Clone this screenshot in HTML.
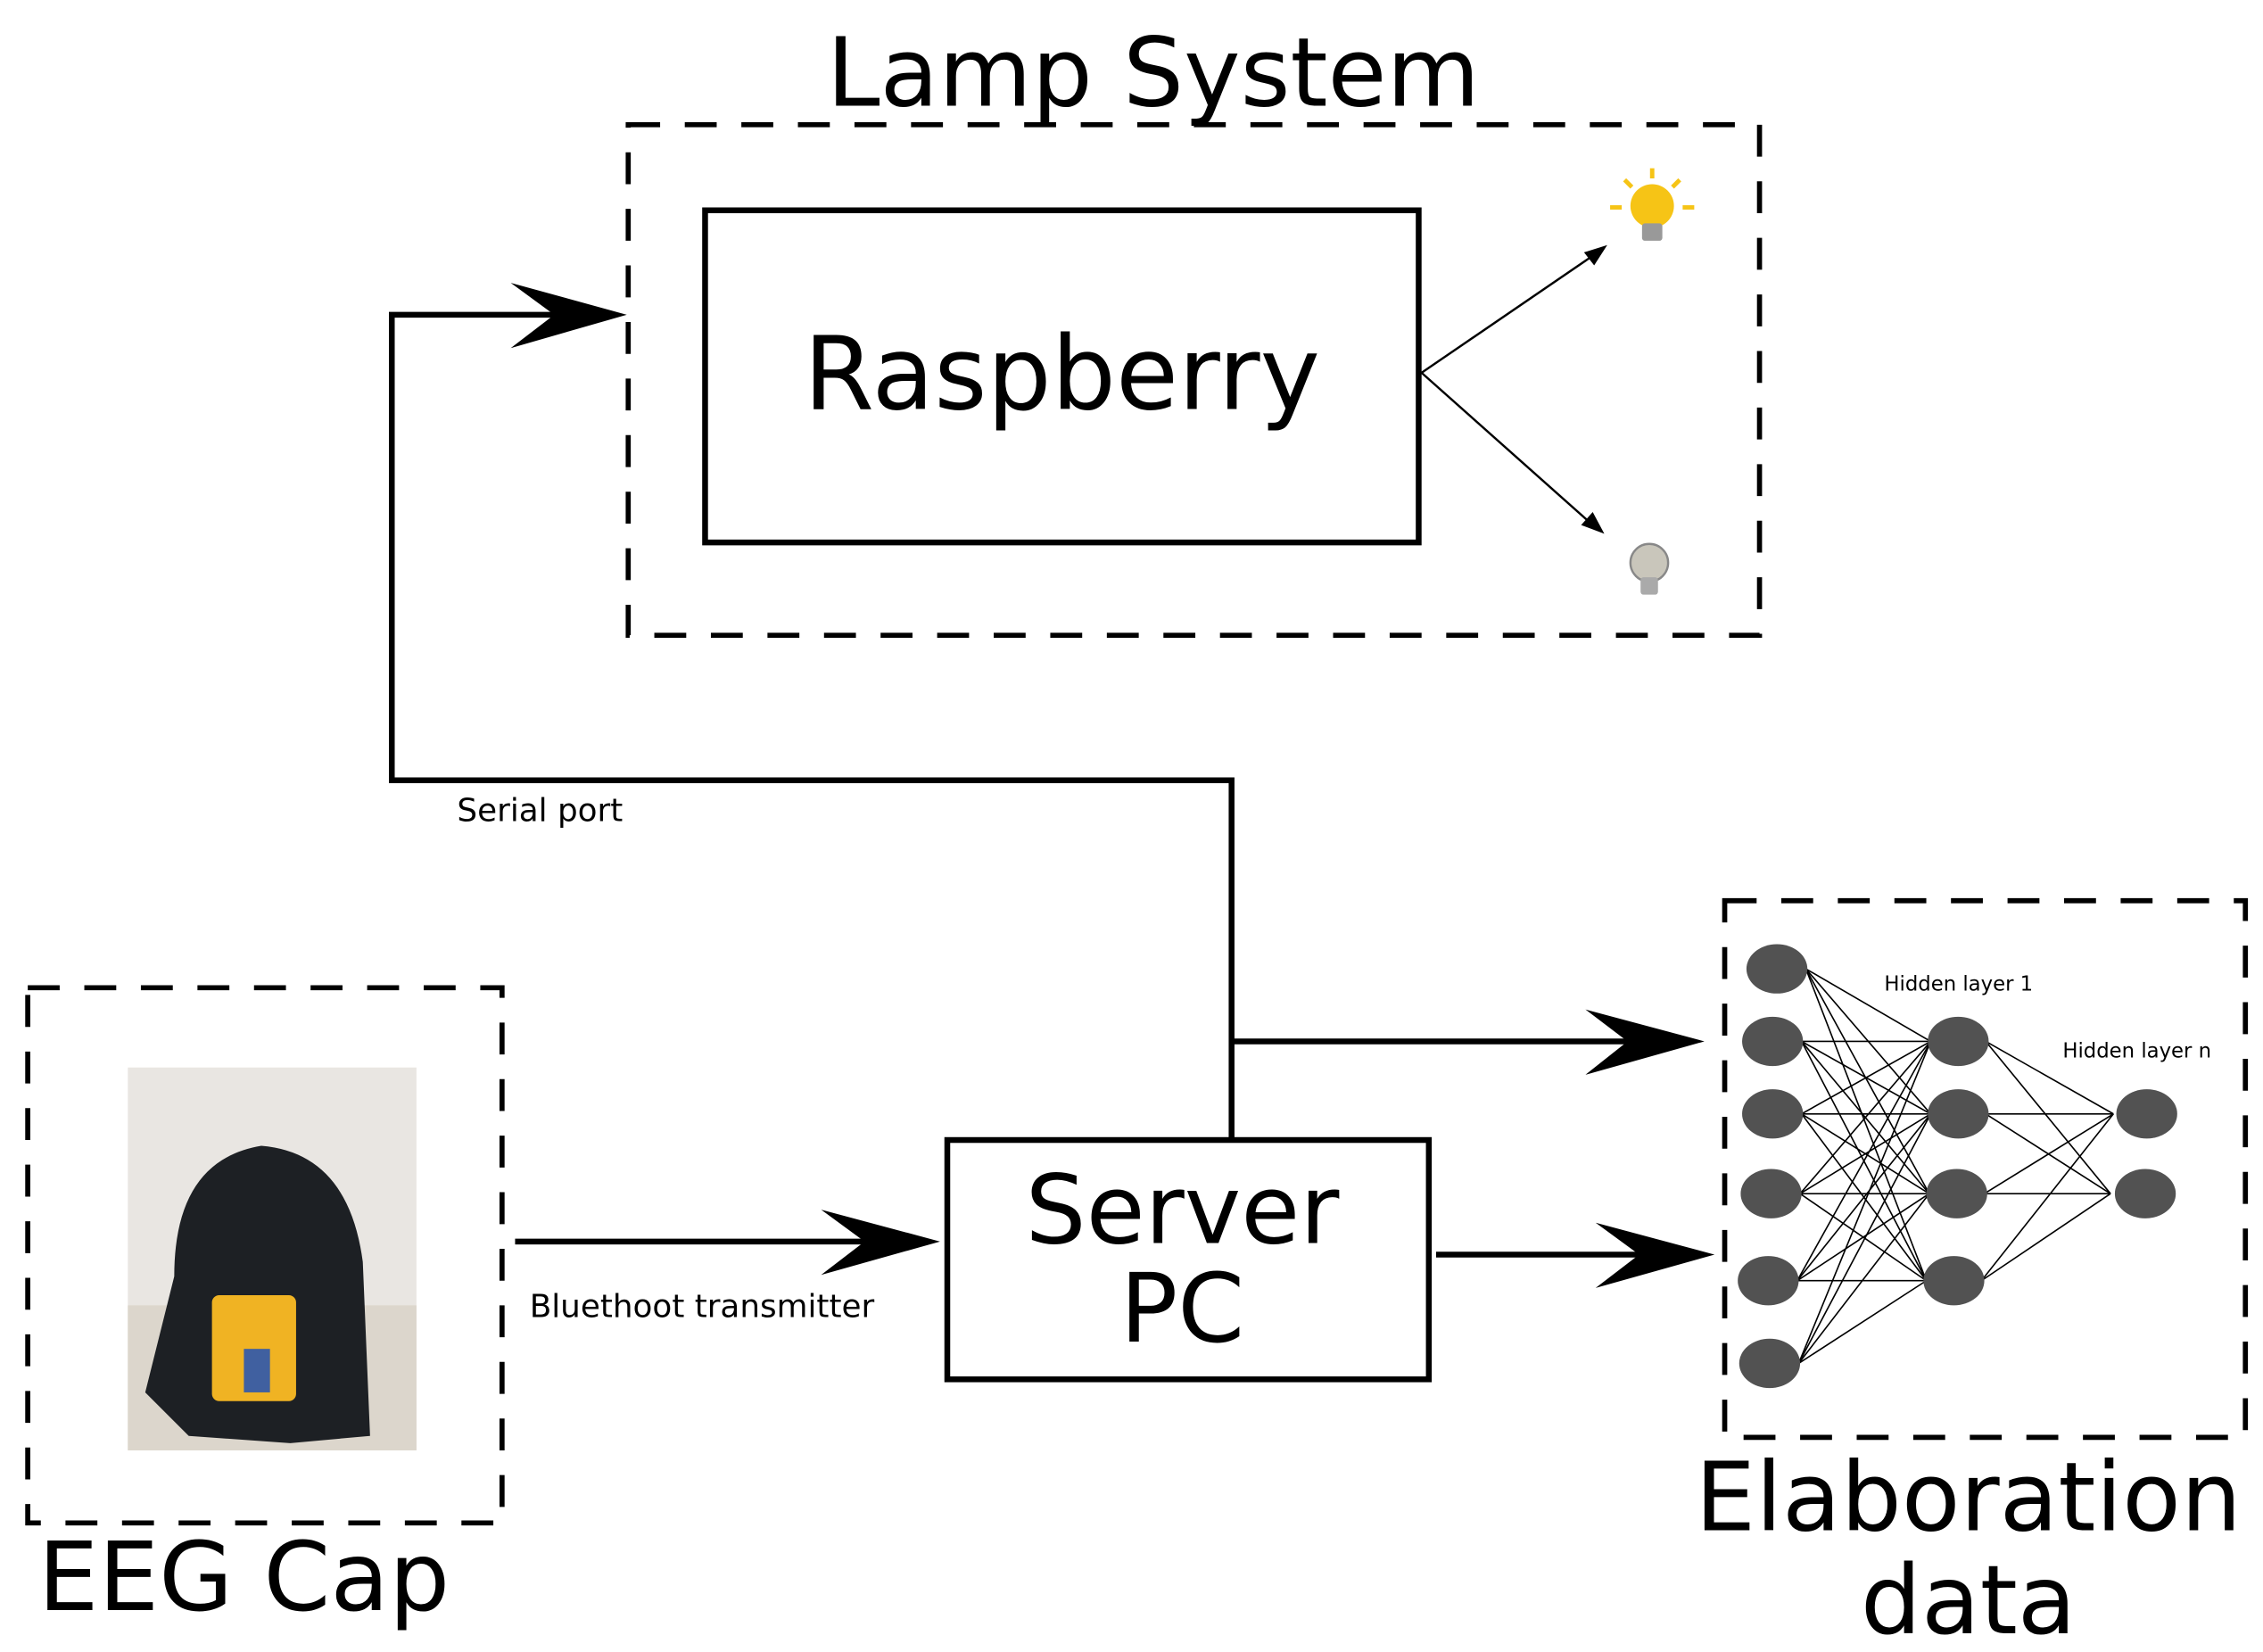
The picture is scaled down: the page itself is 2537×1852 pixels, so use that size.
<!DOCTYPE html>
<html><head><style>html,body{margin:0;padding:0;background:#fff}svg{display:block}</style></head>
<body>
<svg width="2537" height="1852" viewBox="0 0 1560 1139" xmlns="http://www.w3.org/2000/svg" font-family="'DejaVu Sans','Liberation Sans',sans-serif">
<rect width="1560" height="1139" fill="#fff"/>
<g fill="none" stroke="#000" stroke-width="3.5" stroke-dasharray="22,17">
<rect x="433" y="86" width="780" height="352"/>
<rect x="19" y="681" width="327" height="369"/>
<rect x="1189" y="621" width="359" height="370"/>
</g>
<text x="795" y="73" font-size="66" text-anchor="middle">Lamp System</text>
<rect x="486" y="145" width="492" height="229" fill="none" stroke="#000" stroke-width="4"/>
<text x="732" y="282" font-size="70" text-anchor="middle">Raspberry</text>
<rect x="653" y="786" width="332" height="165" fill="none" stroke="#000" stroke-width="4"/>
<text x="815" y="857" font-size="66" text-anchor="middle">Server</text>
<text x="815" y="925" font-size="66" text-anchor="middle">PC</text>
<text x="168" y="1110" font-size="66" text-anchor="middle">EEG Cap</text>
<text x="1357" y="1055" font-size="66" text-anchor="middle">Elaboration</text>
<text x="1357" y="1126" font-size="66" text-anchor="middle">data</text>
<text x="315" y="566" font-size="22">Serial port</text>
<text x="365" y="908" font-size="22">Bluethoot transmitter</text>
<!-- connectors -->
<g fill="none" stroke="#000" stroke-width="4">
<polyline points="849,786 849,538 270,538 270,217 400,217"/>
<line x1="849" y1="718" x2="1140" y2="718"/>
<line x1="355" y1="856" x2="610" y2="856"/>
<line x1="990" y1="865" x2="1140" y2="865"/>
</g>
<g fill="#000">
<path d="M432,217 L352,195 L382,217 L352,240 Z"/>
<path d="M1175,718 L1093,696 L1122,718 L1093,741 Z"/>
<path d="M648,856 L566,834 L596,856 L566,879 Z"/>
<path d="M1182,865 L1100,843 L1130,865 L1100,888 Z"/>
</g>
<g stroke="#000" stroke-width="1.5">
<line x1="980" y1="257" x2="1100" y2="175"/>
<line x1="980" y1="257" x2="1098" y2="362"/>
</g>
<path d="M1108,169 L1092,174 L1099,183 Z"/>
<path d="M1106,368 L1098,353 L1090,362 Z"/>
<!-- bulbs -->
<g>
<circle cx="1139" cy="142" r="15" fill="#f6c416"/>
<rect x="1132" y="154" width="14" height="12" rx="2" fill="#999"/>
<g stroke="#f6c416" stroke-width="3"><line x1="1110" y1="143" x2="1118" y2="143"/><line x1="1160" y1="143" x2="1168" y2="143"/><line x1="1139" y1="116" x2="1139" y2="123"/><line x1="1120" y1="124" x2="1125" y2="129"/><line x1="1158" y1="124" x2="1153" y2="129"/></g>
<circle cx="1137" cy="388" r="13" fill="#c9c6bb" stroke="#888" stroke-width="1.5"/>
<rect x="1131" y="398" width="12" height="12" rx="2" fill="#aaa"/>
</g>
<!-- photo -->
<rect x="88" y="736" width="199" height="264" fill="#e9e6e2"/>
<rect x="88" y="900" width="199" height="100" fill="#dcd6cc"/>
<path d="M120,880 Q120,800 180,790 Q240,795 250,870 L255,990 L200,995 L130,990 L100,960 Z" fill="#1d2024"/>
<rect x="146" y="893" width="58" height="73" rx="5" fill="#f0b323"/>
<rect x="168" y="930" width="18" height="30" fill="#4060a0"/>
<!-- network -->
<g stroke="#000" stroke-width="1">
<g id="l1">
<line x1="1245" y1="668" x2="1331" y2="718"/><line x1="1245" y1="668" x2="1331" y2="768"/><line x1="1245" y1="668" x2="1330" y2="823"/><line x1="1245" y1="668" x2="1328" y2="883"/>
<line x1="1242" y1="718" x2="1331" y2="718"/><line x1="1242" y1="718" x2="1331" y2="768"/><line x1="1242" y1="718" x2="1330" y2="823"/><line x1="1242" y1="718" x2="1328" y2="883"/>
<line x1="1242" y1="768" x2="1331" y2="718"/><line x1="1242" y1="768" x2="1331" y2="768"/><line x1="1242" y1="768" x2="1330" y2="823"/><line x1="1242" y1="768" x2="1328" y2="883"/>
<line x1="1241" y1="823" x2="1331" y2="718"/><line x1="1241" y1="823" x2="1331" y2="768"/><line x1="1241" y1="823" x2="1330" y2="823"/><line x1="1241" y1="823" x2="1328" y2="883"/>
<line x1="1239" y1="883" x2="1331" y2="718"/><line x1="1239" y1="883" x2="1331" y2="768"/><line x1="1239" y1="883" x2="1330" y2="823"/><line x1="1239" y1="883" x2="1328" y2="883"/>
<line x1="1240" y1="940" x2="1331" y2="718"/><line x1="1240" y1="940" x2="1331" y2="768"/><line x1="1240" y1="940" x2="1330" y2="823"/><line x1="1240" y1="940" x2="1328" y2="883"/>
</g>
<line x1="1369" y1="718" x2="1457" y2="768"/><line x1="1369" y1="718" x2="1455" y2="823"/>
<line x1="1369" y1="768" x2="1457" y2="768"/><line x1="1369" y1="768" x2="1455" y2="823"/>
<line x1="1368" y1="823" x2="1457" y2="768"/><line x1="1368" y1="823" x2="1455" y2="823"/>
<line x1="1366" y1="883" x2="1457" y2="768"/><line x1="1366" y1="883" x2="1455" y2="823"/>
</g>
<g fill="#525252">
<ellipse cx="1225" cy="668" rx="21" ry="17"/><ellipse cx="1222" cy="718" rx="21" ry="17"/><ellipse cx="1222" cy="768" rx="21" ry="17"/><ellipse cx="1221" cy="823" rx="21" ry="17"/><ellipse cx="1219" cy="883" rx="21" ry="17"/><ellipse cx="1220" cy="940" rx="21" ry="17"/>
<ellipse cx="1350" cy="718" rx="21" ry="17"/><ellipse cx="1350" cy="768" rx="21" ry="17"/><ellipse cx="1349" cy="823" rx="21" ry="17"/><ellipse cx="1347" cy="883" rx="21" ry="17"/>
<ellipse cx="1480" cy="768" rx="21" ry="17"/><ellipse cx="1479" cy="823" rx="21" ry="17"/>
</g>
<text x="1299" y="683" font-size="14">Hidden layer 1</text>
<text x="1422" y="729" font-size="14">Hidden layer n</text>
</svg>
</body></html>
